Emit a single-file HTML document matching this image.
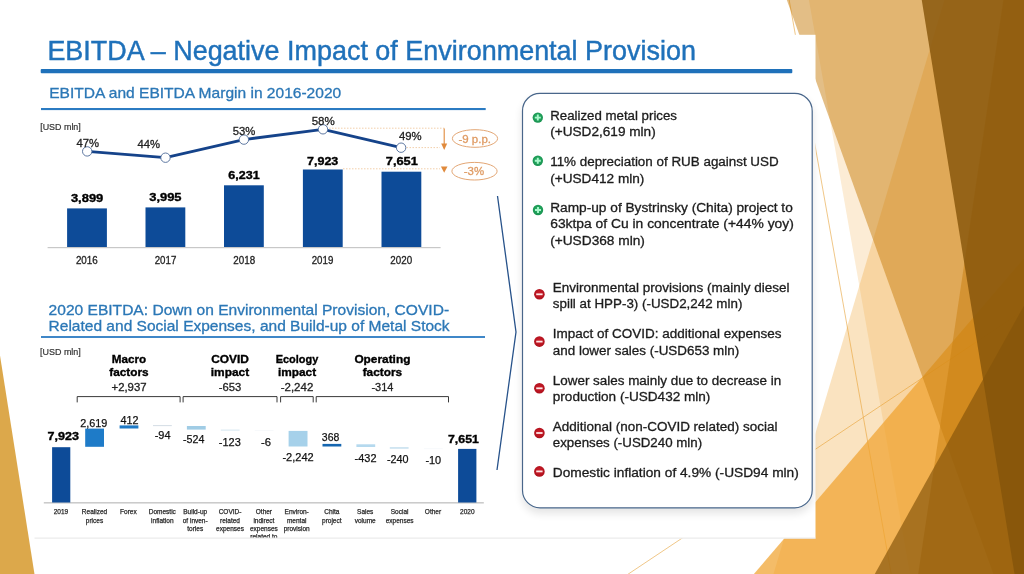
<!DOCTYPE html>
<html lang="en">
<head>
<meta charset="utf-8">
<title>EBITDA – Negative Impact of Environmental Provision</title>
<style>
html,body{margin:0;padding:0;background:#fff;}
body{width:1024px;height:574px;overflow:hidden;}
svg{display:block;font-family:"Liberation Sans", sans-serif;}
text{font-family:"Liberation Sans", sans-serif;white-space:pre;}
</style>
</head>
<body>
<svg width="1024" height="574" viewBox="0 0 1024 574">
<g id="deco">
<line x1="788.7" y1="-2.7" x2="891.7" y2="576.7" stroke="#ECB96A" stroke-width="0.8"/>
<line x1="1026.8" y1="308.3" x2="624.3" y2="576.7" stroke="#ECB96A" stroke-width="0.8"/>
<polygon points="945.5,-3.4 1036.2,-3.4 1036.2,580.2 771.6,580.2" fill="rgba(240,162,46,0.30)"/>
<polygon points="808.3,-3.4 1036.2,-3.4 1036.2,580.2 911.2,580.2" fill="rgba(240,162,46,0.20)"/>
<polygon points="1027.0,254.8 1027.0,576.7 751.6,576.7" fill="rgba(240,162,46,0.72)"/>
<polygon points="785.6,-3.4 1036.2,-3.4 1036.2,580.2 995.6,580.2" fill="rgba(200,125,14,0.50)"/>
<polygon points="1003.9,-3.4 1036.2,-3.4 1036.2,580.2 917.3,580.2" fill="rgba(200,125,14,0.50)"/>
<polygon points="921.2,-3.4 1036.2,-3.4 1036.2,580.2 1015.5,580.2" fill="rgba(133,84,10,0.82)"/>
<polygon points="1026.8,300.6 1026.8,576.7 873.3,576.7" fill="rgba(133,84,10,0.68)"/>
<polygon points="-3.0,336.4 -3.0,576.7 34.9,576.7" fill="rgba(214,153,43,0.85)"/>
</g>
<rect x="34.5" y="34.8" width="781.0" height="503.7" fill="#fff"/>
<rect x="34.5" y="537.6" width="781.0" height="1" fill="#e6e6e6"/>
<text x="47.4" y="59.5" font-size="27.6" fill="#1F71BA" stroke="#1F71BA" stroke-width="0.45" textLength="648.5" lengthAdjust="spacingAndGlyphs">EBITDA – Negative Impact of Environmental Provision</text>
<rect x="40.7" y="69" width="751.6" height="4.2" rx="1" fill="#1F71BA"/>
<text x="49.2" y="97.6" font-size="14.8" fill="#2B77B6" stroke="#2B77B6" stroke-width="0.3" textLength="292.0" lengthAdjust="spacingAndGlyphs">EBITDA and EBITDA Margin in 2016-2020</text>
<rect x="41" y="108" width="444.7" height="2.1" fill="#2B7BC2"/>
<text x="40.2" y="129.9" font-size="9.3" fill="#333" stroke="#333" stroke-width="0.2" textLength="40.6" lengthAdjust="spacingAndGlyphs">[USD mln]</text>
<rect x="47.6" y="247" width="393" height="1.2" fill="#c8c8c8"/>
<rect x="67.1" y="208.4" width="39.8" height="38.6" fill="#0D4B98"/>
<rect x="145.5" y="207.4" width="39.8" height="39.6" fill="#0D4B98"/>
<rect x="224.0" y="185.3" width="39.8" height="61.7" fill="#0D4B98"/>
<rect x="302.9" y="169.5" width="39.8" height="77.5" fill="#0D4B98"/>
<rect x="381.5" y="171.7" width="39.8" height="75.3" fill="#0D4B98"/>
<text x="70.9" y="201.8" font-size="10.8" fill="#000" stroke="#000" stroke-width="0.35" font-weight="700" textLength="32.4" lengthAdjust="spacingAndGlyphs">3,899</text>
<text x="149.2" y="201.0" font-size="10.8" fill="#000" stroke="#000" stroke-width="0.35" font-weight="700" textLength="32.4" lengthAdjust="spacingAndGlyphs">3,995</text>
<text x="228.3" y="179.2" font-size="10.8" fill="#000" stroke="#000" stroke-width="0.35" font-weight="700" textLength="31.4" lengthAdjust="spacingAndGlyphs">6,231</text>
<text x="307.0" y="164.9" font-size="10.8" fill="#000" stroke="#000" stroke-width="0.35" font-weight="700" textLength="31.3" lengthAdjust="spacingAndGlyphs">7,923</text>
<text x="385.8" y="164.9" font-size="10.8" fill="#000" stroke="#000" stroke-width="0.35" font-weight="700" textLength="32.1" lengthAdjust="spacingAndGlyphs">7,651</text>
<text x="75.9" y="264.4" font-size="10.8" fill="#222" stroke="#222" stroke-width="0.3" textLength="21.9" lengthAdjust="spacingAndGlyphs">2016</text>
<text x="154.7" y="264.4" font-size="10.8" fill="#222" stroke="#222" stroke-width="0.3" textLength="21.6" lengthAdjust="spacingAndGlyphs">2017</text>
<text x="233.3" y="264.4" font-size="10.8" fill="#222" stroke="#222" stroke-width="0.3" textLength="21.9" lengthAdjust="spacingAndGlyphs">2018</text>
<text x="311.7" y="264.4" font-size="10.8" fill="#222" stroke="#222" stroke-width="0.3" textLength="21.6" lengthAdjust="spacingAndGlyphs">2019</text>
<text x="390.3" y="264.4" font-size="10.8" fill="#222" stroke="#222" stroke-width="0.3" textLength="21.8" lengthAdjust="spacingAndGlyphs">2020</text>
<line x1="329" y1="128.2" x2="444.3" y2="128.2" stroke="#F2CFAA" stroke-width="1" stroke-dasharray="1.5,1.5"/>
<line x1="406.5" y1="147.6" x2="440" y2="147.6" stroke="#F2CFAA" stroke-width="1" stroke-dasharray="1.5,1.5"/>
<line x1="343" y1="168.8" x2="440" y2="168.8" stroke="#F2CFAA" stroke-width="1" stroke-dasharray="1.5,1.5"/>
<path d="M444.2 128.4V145" stroke="#E08A3C" stroke-width="1.1" fill="none"/>
<path d="M441.2 143.6L444.2 150L447.2 143.6Z" fill="#E08A3C"/>
<path d="M440.9 166.5L444.2 172.8L447.5 166.5Z" fill="#E08A3C"/>
<ellipse cx="475" cy="138.5" rx="22.6" ry="8.8" fill="#fff" stroke="#E3A674" stroke-width="1"/>
<ellipse cx="474.5" cy="171.2" rx="22.6" ry="8.8" fill="#fff" stroke="#E3A674" stroke-width="1"/>
<text x="458.4" y="143.2" font-size="11.3" fill="#DF9A62" stroke="#DF9A62" stroke-width="0.3" textLength="32.6" lengthAdjust="spacingAndGlyphs">-9 p.p.</text>
<text x="463.8" y="174.6" font-size="11.3" fill="#DF9A62" stroke="#DF9A62" stroke-width="0.3" textLength="20.3" lengthAdjust="spacingAndGlyphs">-3%</text>
<polyline points="87.2,151.4 165.5,157.7 243.9,139.6 323,129.3 401.1,147.7" fill="none" stroke="#15438A" stroke-width="2.8" stroke-linejoin="round"/>
<circle cx="87.2" cy="151.4" r="4.7" fill="#fff" stroke="#4D6A97" stroke-width="0.9"/>
<circle cx="165.5" cy="157.7" r="4.7" fill="#fff" stroke="#4D6A97" stroke-width="0.9"/>
<circle cx="243.9" cy="139.6" r="4.7" fill="#fff" stroke="#4D6A97" stroke-width="0.9"/>
<circle cx="323" cy="129.3" r="4.7" fill="#fff" stroke="#4D6A97" stroke-width="0.9"/>
<circle cx="401.1" cy="147.7" r="4.7" fill="#fff" stroke="#4D6A97" stroke-width="0.9"/>
<text x="76.4" y="146.8" font-size="11.2" fill="#222" stroke="#222" stroke-width="0.3" textLength="22.6" lengthAdjust="spacingAndGlyphs">47%</text>
<text x="137.4" y="147.9" font-size="11.2" fill="#222" stroke="#222" stroke-width="0.3" textLength="22.6" lengthAdjust="spacingAndGlyphs">44%</text>
<text x="232.8" y="134.8" font-size="11.2" fill="#222" stroke="#222" stroke-width="0.3" textLength="22.6" lengthAdjust="spacingAndGlyphs">53%</text>
<text x="311.7" y="124.7" font-size="11.2" fill="#222" stroke="#222" stroke-width="0.3" textLength="23.1" lengthAdjust="spacingAndGlyphs">58%</text>
<text x="399.0" y="139.9" font-size="11.2" fill="#222" stroke="#222" stroke-width="0.3" textLength="22.7" lengthAdjust="spacingAndGlyphs">49%</text>
<text x="48.6" y="314.8" font-size="14.8" fill="#2B77B6" stroke="#2B77B6" stroke-width="0.3" textLength="400.5" lengthAdjust="spacingAndGlyphs">2020 EBITDA: Down on Environmental Provision, COVID-</text>
<text x="48.6" y="330.8" font-size="14.8" fill="#2B77B6" stroke="#2B77B6" stroke-width="0.3" textLength="401.0" lengthAdjust="spacingAndGlyphs">Related and Social Expenses, and Build-up of Metal Stock</text>
<rect x="41" y="336.1" width="444" height="1.8" fill="#2B7BC2"/>
<text x="40.0" y="355.4" font-size="9.3" fill="#333" stroke="#333" stroke-width="0.2" textLength="40.8" lengthAdjust="spacingAndGlyphs">[USD mln]</text>
<text x="111.8" y="362.8" font-size="11.3" fill="#000" stroke="#000" stroke-width="0.35" font-weight="700" textLength="34.4" lengthAdjust="spacingAndGlyphs">Macro</text>
<text x="109.3" y="376.3" font-size="11.3" fill="#000" stroke="#000" stroke-width="0.35" font-weight="700" textLength="39.4" lengthAdjust="spacingAndGlyphs">factors</text>
<text x="111.5" y="390.6" font-size="11.6" fill="#222" stroke="#222" stroke-width="0.3" textLength="35.1" lengthAdjust="spacingAndGlyphs">+2,937</text>
<path d="M77.2 402.4V396.6H180.1V402.4" fill="none" stroke="#222" stroke-width="0.9"/>
<text x="211.2" y="362.8" font-size="11.3" fill="#000" stroke="#000" stroke-width="0.35" font-weight="700" textLength="37.7" lengthAdjust="spacingAndGlyphs">COVID</text>
<text x="210.8" y="376.3" font-size="11.3" fill="#000" stroke="#000" stroke-width="0.35" font-weight="700" textLength="38.4" lengthAdjust="spacingAndGlyphs">impact</text>
<text x="218.8" y="390.6" font-size="11.6" fill="#222" stroke="#222" stroke-width="0.3" textLength="22.5" lengthAdjust="spacingAndGlyphs">-653</text>
<path d="M183.1 402.4V396.6H277.0V402.4" fill="none" stroke="#222" stroke-width="0.9"/>
<text x="275.7" y="362.8" font-size="11.3" fill="#000" stroke="#000" stroke-width="0.35" font-weight="700" textLength="42.6" lengthAdjust="spacingAndGlyphs">Ecology</text>
<text x="277.9" y="376.3" font-size="11.3" fill="#000" stroke="#000" stroke-width="0.35" font-weight="700" textLength="38.2" lengthAdjust="spacingAndGlyphs">impact</text>
<text x="280.7" y="390.6" font-size="11.6" fill="#222" stroke="#222" stroke-width="0.3" textLength="32.6" lengthAdjust="spacingAndGlyphs">-2,242</text>
<path d="M280.6 402.4V396.6H313.2V402.4" fill="none" stroke="#222" stroke-width="0.9"/>
<text x="354.4" y="362.8" font-size="11.3" fill="#000" stroke="#000" stroke-width="0.35" font-weight="700" textLength="56.0" lengthAdjust="spacingAndGlyphs">Operating</text>
<text x="362.7" y="376.3" font-size="11.3" fill="#000" stroke="#000" stroke-width="0.35" font-weight="700" textLength="39.4" lengthAdjust="spacingAndGlyphs">factors</text>
<text x="371.4" y="390.6" font-size="11.6" fill="#222" stroke="#222" stroke-width="0.3" textLength="22.0" lengthAdjust="spacingAndGlyphs">-314</text>
<path d="M316.2 402.4V396.6H448.5V402.4" fill="none" stroke="#222" stroke-width="0.9"/>
<rect x="43.8" y="502.3" width="440" height="1.1" fill="#b5b5b5"/>
<rect x="52.1" y="447.2" width="18.2" height="55.3" fill="#0D4B98"/>
<rect x="85.2" y="428.6" width="18.8" height="18.2" fill="#1E7BC8"/>
<rect x="119.6" y="425.4" width="18.8" height="3.1" fill="#1F7AC6"/>
<rect x="153.0" y="425.2" width="18.8" height="0.9" fill="#CFD9E2"/>
<rect x="186.9" y="426.0" width="18.8" height="3.6" fill="#A0CCE5"/>
<rect x="220.8" y="429.6" width="18.8" height="1.0" fill="#D5E6F1"/>
<rect x="254.7" y="430.5" width="18.8" height="0.5" fill="#EEF3F7"/>
<rect x="288.6" y="430.9" width="18.9" height="15.6" fill="#A6D1EA"/>
<rect x="322.5" y="443.9" width="18.8" height="2.6" fill="#1566B0"/>
<rect x="356.4" y="444.3" width="18.8" height="2.7" fill="#B5D9EE"/>
<rect x="389.8" y="447.2" width="18.8" height="1.5" fill="#C5DFEE"/>
<rect x="424.0" y="448.6" width="18.8" height="0.5" fill="#EEF3F7"/>
<rect x="458.1" y="448.9" width="18.3" height="53.6" fill="#0D4B98"/>
<text x="47.6" y="439.5" font-size="10.8" fill="#000" stroke="#000" stroke-width="0.35" font-weight="700" textLength="31.4" lengthAdjust="spacingAndGlyphs">7,923</text>
<text x="80.2" y="426.7" font-size="11.6" fill="#111" stroke="#111" stroke-width="0.25" textLength="27.1" lengthAdjust="spacingAndGlyphs">2,619</text>
<text x="120.4" y="424.2" font-size="11.6" fill="#111" stroke="#111" stroke-width="0.25" textLength="18.0" lengthAdjust="spacingAndGlyphs">412</text>
<text x="154.7" y="439.4" font-size="11.6" fill="#111" stroke="#111" stroke-width="0.25" textLength="15.9" lengthAdjust="spacingAndGlyphs">-94</text>
<text x="183.0" y="443.1" font-size="11.6" fill="#111" stroke="#111" stroke-width="0.25" textLength="21.4" lengthAdjust="spacingAndGlyphs">-524</text>
<text x="218.8" y="446.1" font-size="11.6" fill="#111" stroke="#111" stroke-width="0.25" textLength="22.0" lengthAdjust="spacingAndGlyphs">-123</text>
<text x="261.0" y="446.1" font-size="11.6" fill="#111" stroke="#111" stroke-width="0.25" textLength="10.0" lengthAdjust="spacingAndGlyphs">-6</text>
<text x="282.4" y="460.6" font-size="11.6" fill="#111" stroke="#111" stroke-width="0.25" textLength="31.3" lengthAdjust="spacingAndGlyphs">-2,242</text>
<text x="321.8" y="440.6" font-size="11.6" fill="#111" stroke="#111" stroke-width="0.25" textLength="17.5" lengthAdjust="spacingAndGlyphs">368</text>
<text x="354.6" y="461.6" font-size="11.6" fill="#111" stroke="#111" stroke-width="0.25" textLength="21.9" lengthAdjust="spacingAndGlyphs">-432</text>
<text x="387.0" y="463.1" font-size="11.6" fill="#111" stroke="#111" stroke-width="0.25" textLength="21.6" lengthAdjust="spacingAndGlyphs">-240</text>
<text x="425.4" y="463.6" font-size="11.6" fill="#111" stroke="#111" stroke-width="0.25" textLength="15.8" lengthAdjust="spacingAndGlyphs">-10</text>
<text x="448.0" y="443.1" font-size="10.8" fill="#000" stroke="#000" stroke-width="0.35" font-weight="700" textLength="30.9" lengthAdjust="spacingAndGlyphs">7,651</text>
<clipPath id="pc"><rect x="33" y="34" width="782" height="503.6"/></clipPath>
<g clip-path="url(#pc)">
<text x="60.9" y="514.2" font-size="6.5" fill="#2a2a2a" stroke="#2a2a2a" stroke-width="0.25" text-anchor="middle">2019</text>
<text x="94.5" y="514.2" font-size="6.5" fill="#2a2a2a" stroke="#2a2a2a" stroke-width="0.25" text-anchor="middle">Realized</text>
<text x="94.5" y="522.5" font-size="6.5" fill="#2a2a2a" stroke="#2a2a2a" stroke-width="0.25" text-anchor="middle">prices</text>
<text x="128.4" y="514.2" font-size="6.5" fill="#2a2a2a" stroke="#2a2a2a" stroke-width="0.25" text-anchor="middle">Forex</text>
<text x="162.3" y="514.2" font-size="6.5" fill="#2a2a2a" stroke="#2a2a2a" stroke-width="0.25" text-anchor="middle">Domestic</text>
<text x="162.3" y="522.5" font-size="6.5" fill="#2a2a2a" stroke="#2a2a2a" stroke-width="0.25" text-anchor="middle">inflation</text>
<text x="195.2" y="514.2" font-size="6.5" fill="#2a2a2a" stroke="#2a2a2a" stroke-width="0.25" text-anchor="middle">Build-up</text>
<text x="195.2" y="522.5" font-size="6.5" fill="#2a2a2a" stroke="#2a2a2a" stroke-width="0.25" text-anchor="middle">of inven-</text>
<text x="195.2" y="530.8" font-size="6.5" fill="#2a2a2a" stroke="#2a2a2a" stroke-width="0.25" text-anchor="middle">tories</text>
<text x="230.0" y="514.2" font-size="6.5" fill="#2a2a2a" stroke="#2a2a2a" stroke-width="0.25" text-anchor="middle">COVID-</text>
<text x="230.0" y="522.5" font-size="6.5" fill="#2a2a2a" stroke="#2a2a2a" stroke-width="0.25" text-anchor="middle">related</text>
<text x="230.0" y="530.8" font-size="6.5" fill="#2a2a2a" stroke="#2a2a2a" stroke-width="0.25" text-anchor="middle">expenses</text>
<text x="263.9" y="514.2" font-size="6.5" fill="#2a2a2a" stroke="#2a2a2a" stroke-width="0.25" text-anchor="middle">Other</text>
<text x="263.9" y="522.5" font-size="6.5" fill="#2a2a2a" stroke="#2a2a2a" stroke-width="0.25" text-anchor="middle">indirect</text>
<text x="263.9" y="530.8" font-size="6.5" fill="#2a2a2a" stroke="#2a2a2a" stroke-width="0.25" text-anchor="middle">expenses</text>
<text x="263.9" y="539.1" font-size="6.5" fill="#2a2a2a" stroke="#2a2a2a" stroke-width="0.25" text-anchor="middle">related to</text>
<text x="296.7" y="514.2" font-size="6.5" fill="#2a2a2a" stroke="#2a2a2a" stroke-width="0.25" text-anchor="middle">Environ-</text>
<text x="296.7" y="522.5" font-size="6.5" fill="#2a2a2a" stroke="#2a2a2a" stroke-width="0.25" text-anchor="middle">mental</text>
<text x="296.7" y="530.8" font-size="6.5" fill="#2a2a2a" stroke="#2a2a2a" stroke-width="0.25" text-anchor="middle">provision</text>
<text x="331.8" y="514.2" font-size="6.5" fill="#2a2a2a" stroke="#2a2a2a" stroke-width="0.25" text-anchor="middle">Chita</text>
<text x="331.8" y="522.5" font-size="6.5" fill="#2a2a2a" stroke="#2a2a2a" stroke-width="0.25" text-anchor="middle">project</text>
<text x="365.2" y="514.2" font-size="6.5" fill="#2a2a2a" stroke="#2a2a2a" stroke-width="0.25" text-anchor="middle">Sales</text>
<text x="365.2" y="522.5" font-size="6.5" fill="#2a2a2a" stroke="#2a2a2a" stroke-width="0.25" text-anchor="middle">volume</text>
<text x="399.6" y="514.2" font-size="6.5" fill="#2a2a2a" stroke="#2a2a2a" stroke-width="0.25" text-anchor="middle">Social</text>
<text x="399.6" y="522.5" font-size="6.5" fill="#2a2a2a" stroke="#2a2a2a" stroke-width="0.25" text-anchor="middle">expenses</text>
<text x="433.0" y="514.2" font-size="6.5" fill="#2a2a2a" stroke="#2a2a2a" stroke-width="0.25" text-anchor="middle">Other</text>
<text x="467.3" y="514.2" font-size="6.5" fill="#2a2a2a" stroke="#2a2a2a" stroke-width="0.25" text-anchor="middle">2020</text>
</g>
<polyline points="497.5,196 516,332 497,470" fill="none" stroke="#27528A" stroke-width="1.3"/>
<defs><filter id="sh" x="-10%" y="-10%" width="120%" height="125%"><feGaussianBlur in="SourceAlpha" stdDeviation="4.5"/><feOffset dy="5"/><feComponentTransfer><feFuncA type="linear" slope="0.11"/></feComponentTransfer><feMerge><feMergeNode/><feMergeNode in="SourceGraphic"/></feMerge></filter></defs>
<rect x="522.5" y="93.4" width="289.7" height="414.4" rx="17.5" fill="#fff" stroke="#48668A" stroke-width="1.2" filter="url(#sh)"/>
<defs><radialGradient id="gr" cx="50%" cy="45%" r="60%"><stop offset="0" stop-color="#2BB368"/><stop offset="1" stop-color="#178F4E"/></radialGradient><radialGradient id="rd" cx="50%" cy="45%" r="60%"><stop offset="0" stop-color="#D2202D"/><stop offset="1" stop-color="#A80E19"/></radialGradient></defs>
<circle cx="537.8" cy="117.6" r="5.2" fill="url(#gr)"/>
<path d="M534.8 117.6H540.8M537.8 114.6V120.6" stroke="#A9F8CB" stroke-width="1.9" fill="none"/>
<circle cx="537.8" cy="160.8" r="5.2" fill="url(#gr)"/>
<path d="M534.8 160.8H540.8M537.8 157.8V163.8" stroke="#A9F8CB" stroke-width="1.9" fill="none"/>
<circle cx="538" cy="210" r="5.2" fill="url(#gr)"/>
<path d="M535 210H541M538 207V213" stroke="#A9F8CB" stroke-width="1.9" fill="none"/>
<circle cx="539.4" cy="294.3" r="5.3" fill="url(#rd)"/>
<path d="M536.1999999999999 294.3H542.6" stroke="#FFE6E6" stroke-width="1.8" fill="none"/>
<circle cx="539.4" cy="341.6" r="5.3" fill="url(#rd)"/>
<path d="M536.1999999999999 341.6H542.6" stroke="#FFE6E6" stroke-width="1.8" fill="none"/>
<circle cx="539.4" cy="388.3" r="5.3" fill="url(#rd)"/>
<path d="M536.1999999999999 388.3H542.6" stroke="#FFE6E6" stroke-width="1.8" fill="none"/>
<circle cx="539.4" cy="433" r="5.3" fill="url(#rd)"/>
<path d="M536.1999999999999 433H542.6" stroke="#FFE6E6" stroke-width="1.8" fill="none"/>
<circle cx="539.4" cy="471.4" r="5.3" fill="url(#rd)"/>
<path d="M536.1999999999999 471.4H542.6" stroke="#FFE6E6" stroke-width="1.8" fill="none"/>
<text x="550.2" y="119.8" font-size="13.7" fill="#1c1c1c" stroke="#1c1c1c" stroke-width="0.32" textLength="126.8" lengthAdjust="spacingAndGlyphs">Realized metal prices</text>
<text x="550.2" y="136.1" font-size="13.7" fill="#1c1c1c" stroke="#1c1c1c" stroke-width="0.32" textLength="105.5" lengthAdjust="spacingAndGlyphs">(+USD2,619 mln)</text>
<text x="550.2" y="165.9" font-size="13.7" fill="#1c1c1c" stroke="#1c1c1c" stroke-width="0.32" textLength="228.5" lengthAdjust="spacingAndGlyphs">11% depreciation of RUB against USD</text>
<text x="550.2" y="182.5" font-size="13.7" fill="#1c1c1c" stroke="#1c1c1c" stroke-width="0.32" textLength="94.2" lengthAdjust="spacingAndGlyphs">(+USD412 mln)</text>
<text x="550.2" y="212.3" font-size="13.7" fill="#1c1c1c" stroke="#1c1c1c" stroke-width="0.32" textLength="242.6" lengthAdjust="spacingAndGlyphs">Ramp-up of Bystrinsky (Chita) project to</text>
<text x="550.2" y="228.4" font-size="13.7" fill="#1c1c1c" stroke="#1c1c1c" stroke-width="0.32" textLength="243.6" lengthAdjust="spacingAndGlyphs">63ktpa of Cu in concentrate (+44% yoy)</text>
<text x="550.2" y="244.6" font-size="13.7" fill="#1c1c1c" stroke="#1c1c1c" stroke-width="0.32" textLength="94.7" lengthAdjust="spacingAndGlyphs">(+USD368 mln)</text>
<text x="552.8" y="292.3" font-size="13.7" fill="#1c1c1c" stroke="#1c1c1c" stroke-width="0.32" textLength="236.7" lengthAdjust="spacingAndGlyphs">Environmental provisions (mainly diesel</text>
<text x="552.8" y="308.3" font-size="13.7" fill="#1c1c1c" stroke="#1c1c1c" stroke-width="0.32" textLength="189.6" lengthAdjust="spacingAndGlyphs">spill at HPP-3) (-USD2,242 mln)</text>
<text x="552.8" y="338.2" font-size="13.7" fill="#1c1c1c" stroke="#1c1c1c" stroke-width="0.32" textLength="228.7" lengthAdjust="spacingAndGlyphs">Impact of COVID: additional expenses</text>
<text x="552.8" y="354.5" font-size="13.7" fill="#1c1c1c" stroke="#1c1c1c" stroke-width="0.32" textLength="186.4" lengthAdjust="spacingAndGlyphs">and lower sales (-USD653 mln)</text>
<text x="552.8" y="384.6" font-size="13.7" fill="#1c1c1c" stroke="#1c1c1c" stroke-width="0.32" textLength="228.4" lengthAdjust="spacingAndGlyphs">Lower sales mainly due to decrease in</text>
<text x="552.8" y="400.9" font-size="13.7" fill="#1c1c1c" stroke="#1c1c1c" stroke-width="0.32" textLength="157.6" lengthAdjust="spacingAndGlyphs">production (-USD432 mln)</text>
<text x="552.8" y="430.5" font-size="13.7" fill="#1c1c1c" stroke="#1c1c1c" stroke-width="0.32" textLength="224.7" lengthAdjust="spacingAndGlyphs">Additional (non-COVID related) social</text>
<text x="552.8" y="446.9" font-size="13.7" fill="#1c1c1c" stroke="#1c1c1c" stroke-width="0.32" textLength="149.3" lengthAdjust="spacingAndGlyphs">expenses (-USD240 mln)</text>
<text x="552.8" y="476.5" font-size="13.7" fill="#1c1c1c" stroke="#1c1c1c" stroke-width="0.32" textLength="246.0" lengthAdjust="spacingAndGlyphs">Domestic inflation of 4.9% (-USD94 mln)</text>
</svg>
</body>
</html>
